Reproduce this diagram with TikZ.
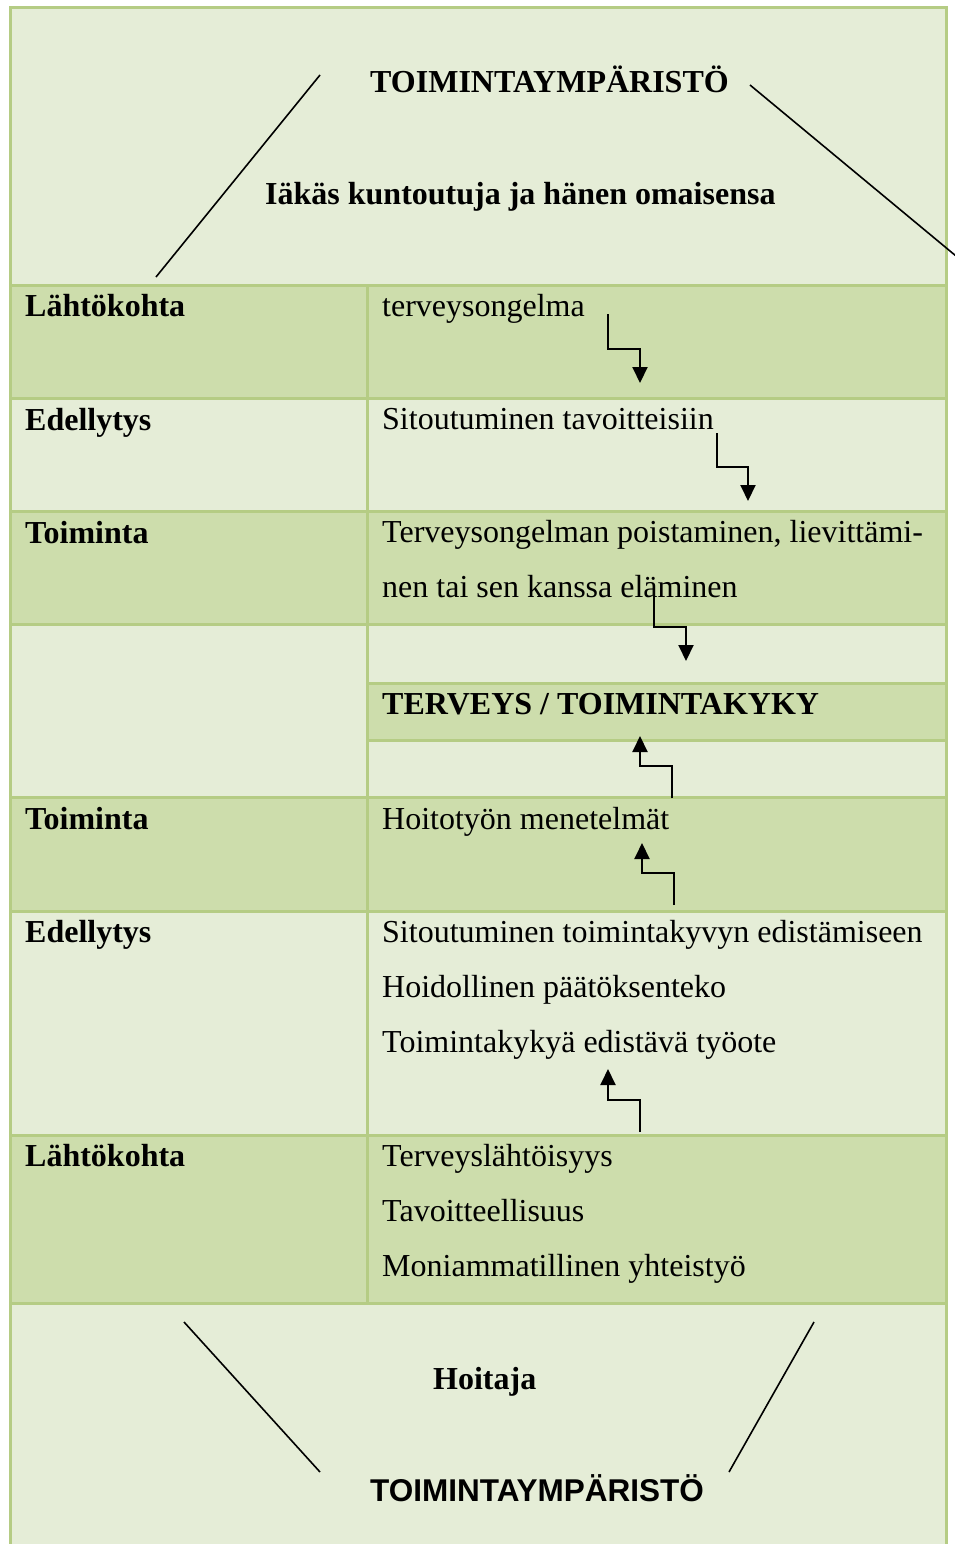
\documentclass[tikz,border=0pt]{standalone}
\usepackage{fontspec}
\setmainfont{Liberation Serif}
\newfontfamily\sansfam{Liberation Sans}
\usetikzlibrary{arrows.meta}
\definecolor{lightgreen}{RGB}{229,237,215}
\definecolor{darkgreen}{RGB}{205,221,172}
\definecolor{rulegreen}{RGB}{181,204,132}
\tikzset{
  lbl/.style={anchor=base west, inner sep=0pt, font=\fontsize{32}{55}\selectfont\bfseries},
  txt/.style={anchor=base west, inner sep=0pt, font=\fontsize{32}{55}\selectfont},
  sanslbl/.style={anchor=base west, inner sep=0pt, font=\sansfam\bfseries\fontsize{31.5}{36}\selectfont},
  gridline/.style={draw=rulegreen, line width=3pt},
  elbow/.style={line width=2pt, -{Triangle[length=16pt,width=15pt]}},
  slant/.style={line width=1.6pt},
}
\begin{document}
\begin{tikzpicture}[x=1pt,y=-1pt]
\useasboundingbox (0,0) rectangle (955,1544);
% fills
\fill[lightgreen] (10,8) rectangle (946,1560);
\fill[darkgreen] (10,285) rectangle (946,398);
\fill[darkgreen] (10,511) rectangle (946,624);
\fill[darkgreen] (367,683) rectangle (946,740);
\fill[darkgreen] (10,797) rectangle (946,911);
\fill[darkgreen] (10,1135) rectangle (946,1303);
% grid
\draw[gridline] (10,1560) -- (10,8) -- (946,8) -- (946,1560);
\foreach \yy in {285,398,511,624,797,911,1135,1303} \draw[gridline] (10,\yy) -- (946,\yy);
\draw[gridline] (367,683) -- (946,683);
\draw[gridline] (367,740) -- (946,740);
\draw[gridline] (367,285) -- (367,1303);
% header
\node[lbl] (envtop) at (370,93) {TOIMINTAYMPÄRISTÖ};
\node[lbl] (client) at (265,204) {Iäkäs kuntoutuja ja hänen omaisensa};
\coordinate (tl1) at (320,75); \coordinate (tl2) at (156,277);
\coordinate (tr1) at (750,85); \coordinate (tr2) at (956,256);
\draw[slant] (tl1) -- (tl2);
\draw[slant] (tr1) -- (tr2);
% left labels
\node[lbl] (la) at (25,316) {Lähtökohta};
\node[lbl] (lb) at (25,430) {Edellytys};
\node[lbl] (lc) at (25,543) {Toiminta};
\node[lbl] (ld) at (25,829) {Toiminta};
\node[lbl] (le) at (25,942) {Edellytys};
\node[lbl] (lf) at (25,1166) {Lähtökohta};
% right texts
\node[txt] (ra) at (382,316) {terveysongelma};
\node[txt] (rb) at (382,429) {Sitoutuminen tavoitteisiin};
\node[txt] (rc1) at (382,542) {Terveysongelman poistaminen, lievittämi-};
\node[txt] (rc2) at (382,597) {nen tai sen kanssa eläminen};
\node[lbl] (health) at (382,714) {TERVEYS / TOIMINTAKYKY};
\node[txt] (rd) at (382,829) {Hoitotyön menetelmät};
\node[txt] (re1) at (382,942) {Sitoutuminen toimintakyvyn edistämiseen};
\node[txt] (re2) at (382,997) {Hoidollinen päätöksenteko};
\node[txt] (re3) at (382,1052) {Toimintakykyä edistävä työote};
\node[txt] (rf1) at (382,1166) {Terveyslähtöisyys};
\node[txt] (rf2) at (382,1221) {Tavoitteellisuus};
\node[txt] (rf3) at (382,1276) {Moniammatillinen yhteistyö};
% elbow arrows
\coordinate (a1s) at (608,314); \coordinate (a1e) at (640,383);
\draw[elbow] (a1s) -- ++(0,35) -| (a1e);
\coordinate (a2s) at (717,433); \coordinate (a2e) at (748,501);
\draw[elbow] (a2s) -- ++(0,34) -| (a2e);
\coordinate (a3s) at (654,595); \coordinate (a3e) at (686,661);
\draw[elbow] (a3s) -- ++(0,32) -| (a3e);
\coordinate (a4s) at (672,798); \coordinate (a4e) at (640,736);
\draw[elbow] (a4s) -- ++(0,-32) -| (a4e);
\coordinate (a5s) at (674,905); \coordinate (a5e) at (642,843);
\draw[elbow] (a5s) -- ++(0,-32) -| (a5e);
\coordinate (a6s) at (640,1132); \coordinate (a6e) at (608,1069);
\draw[elbow] (a6s) -- ++(0,-32) -| (a6e);
% footer
\node[lbl] (nurse) at (433,1389) {Hoitaja};
\node[sanslbl] (envbot) at (370,1501) {TOIMINTAYMPÄRISTÖ};
\coordinate (bl1) at (184,1322); \coordinate (bl2) at (320,1472);
\coordinate (br1) at (814,1322); \coordinate (br2) at (729,1472);
\draw[slant] (bl1) -- (bl2);
\draw[slant] (br1) -- (br2);
\end{tikzpicture}
\end{document}
